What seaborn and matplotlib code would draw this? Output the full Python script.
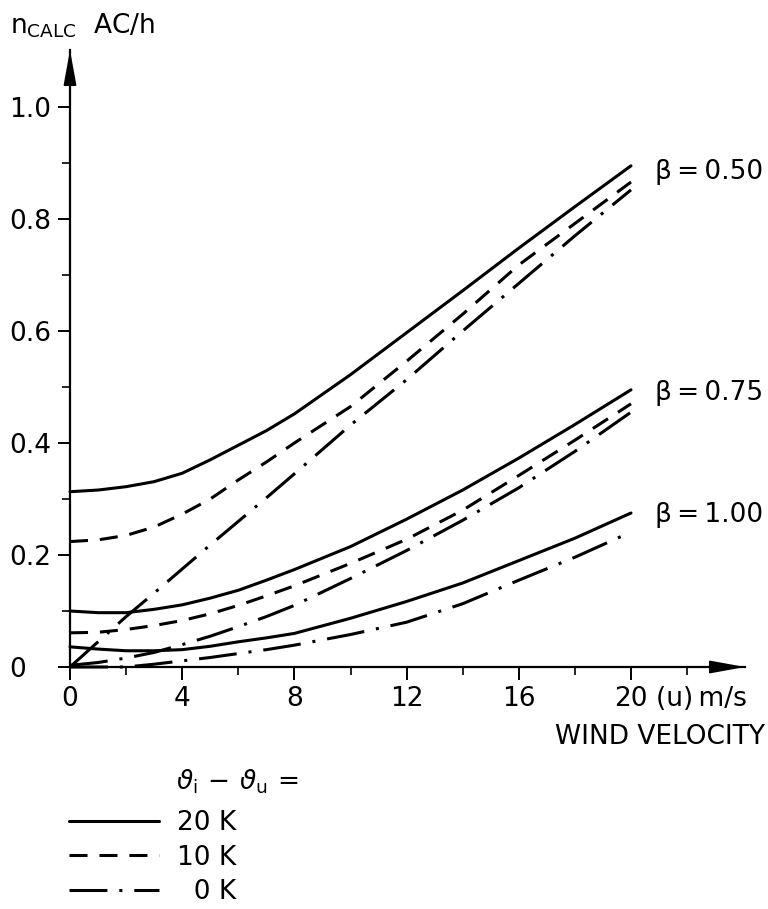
import pandas as pd
import seaborn as sns
import matplotlib.pyplot as plt
from matplotlib.lines import Line2D

# wind velocity (m/s) at which the curves were read
speed = [0, 1, 2, 3, 4, 5, 6, 7, 8, 10, 12, 14, 16, 18, 20]

# beta = 0.50
b050_20K = [0.313, 0.316, 0.322, 0.331, 0.346, 0.370, 0.396, 0.422, 0.452, 0.522, 0.597, 0.672, 0.748, 0.822, 0.895]
b050_10K = [0.224, 0.227, 0.235, 0.250, 0.273, 0.300, 0.334, 0.366, 0.400, 0.465, 0.546, 0.630, 0.718, 0.792, 0.866]
b050_0K = [0.000, 0.045, 0.090, 0.132, 0.175, 0.218, 0.260, 0.302, 0.345, 0.432, 0.513, 0.600, 0.685, 0.770, 0.852]
# beta = 0.75
b075_20K = [0.100, 0.097, 0.097, 0.103, 0.111, 0.123, 0.137, 0.155, 0.174, 0.215, 0.264, 0.316, 0.373, 0.433, 0.495]
b075_10K = [0.061, 0.062, 0.067, 0.074, 0.083, 0.095, 0.110, 0.127, 0.145, 0.185, 0.228, 0.280, 0.342, 0.405, 0.470]
b075_0K = [0.003, 0.008, 0.016, 0.026, 0.040, 0.055, 0.072, 0.090, 0.110, 0.158, 0.208, 0.262, 0.320, 0.385, 0.455]
# beta = 1.00
b100_20K = [0.036, 0.032, 0.029, 0.029, 0.031, 0.037, 0.045, 0.052, 0.060, 0.087, 0.117, 0.150, 0.190, 0.230, 0.275]
b100_0K = [0.000, 0.000, 0.000, 0.005, 0.011, 0.017, 0.024, 0.031, 0.039, 0.058, 0.080, 0.113, 0.155, 0.196, 0.241]

curves = {
    ("0.50", "20 K"): b050_20K, ("0.50", "10 K"): b050_10K, ("0.50", "0 K"): b050_0K,
    ("0.75", "20 K"): b075_20K, ("0.75", "10 K"): b075_10K, ("0.75", "0 K"): b075_0K,
    ("1.00", "20 K"): b100_20K, ("1.00", "0 K"): b100_0K,
}
beta_labels = ["0.50", "0.75", "1.00"]
beta_label_y = [0.884, 0.489, 0.271]
dt_labels = ["20 K", "10 K", "0 K"]
xticks = [0, 4, 8, 12, 16, 20]
yticks = [0, 0.2, 0.4, 0.6, 0.8, 1.0]
ytick_labels = ["0", "0.2", "0.4", "0.6", "0.8", "1.0"]

rows = []
for (beta, dt), vals in curves.items():
    for s, v in zip(speed, vals):
        rows.append({"speed": s, "n": v, "beta": beta, "dT": dt})
df = pd.DataFrame(rows)

sns.set_style("ticks")
plt.rcParams["font.family"] = ["DejaVu Sans"]
plt.rcParams["mathtext.fontset"] = "dejavusans"
for key in ["text.color", "axes.labelcolor", "xtick.color", "ytick.color", "axes.edgecolor"]:
    plt.rcParams[key] = "black"
FS = 19

dash_styles = {"20 K": "", "10 K": (5.9, 3.9), "0 K": (12.4, 3.9, 1.0, 3.9)}

fig = plt.figure(figsize=(7.68, 9.09), dpi=100)
ax = fig.add_axes([70 / 768, 1 - 667 / 909, 675 / 768, 617 / 909])

sns.lineplot(data=df, x="speed", y="n", units="beta", style="dT", style_order=dt_labels,
             estimator=None, color="black", dashes=dash_styles, linewidth=2.2,
             legend=False, ax=ax, clip_on=False)

ax.set_xlim(0, 20 * 675 / 561)
ax.set_ylim(0, 617 / 560)
for side in ["top", "right"]:
    ax.spines[side].set_visible(False)
for side in ["left", "bottom"]:
    ax.spines[side].set_linewidth(1.6)
ax.set_xlabel("")
ax.set_ylabel("")

ax.set_xticks(xticks)
ax.set_xticks([2, 6, 10, 14, 18, 22], minor=True)
ax.set_yticks(yticks)
ax.set_yticklabels(ytick_labels)
ax.set_yticks([0.1, 0.3, 0.5, 0.7, 0.9], minor=True)
ax.tick_params(which="major", length=9, width=1.4, labelsize=FS, pad=5, direction="out")
ax.tick_params(which="minor", length=6, width=1.2, direction="out")
ax.tick_params(axis="y", which="major", pad=35)
for lab in ax.get_yticklabels():
    lab.set_horizontalalignment("left")

arrow = dict(arrowstyle="-|>,head_length=1.1,head_width=0.2", mutation_scale=20,
             fc="black", ec="black", lw=1.2, shrinkA=0, shrinkB=0)
ax.annotate("", xy=(1, 0), xytext=(0.95, 0), xycoords="axes fraction", arrowprops=arrow)
ax.annotate("", xy=(0, 1), xytext=(0, 0.95), xycoords="axes fraction", arrowprops=arrow)

for lab, y in zip(beta_labels, beta_label_y):
    ax.text(20.86, y, "β\u2009=\u2009" + lab, fontsize=FS, ha="left", va="center")

ax.annotate("(u)\u2009m/s", xy=(20.88, 0), xycoords=("data", "axes fraction"),
            xytext=(0, -14), textcoords="offset points", fontsize=FS, ha="left", va="top")

fig.text(10 / 768, 1 - 33 / 909, r"n$_{\mathregular{CALC}}$  AC/h", fontsize=FS, va="baseline")
fig.text(765 / 768, 1 - 737 / 909, "WIND VELOCITY", fontsize=FS, ha="right", va="center")
fig.text(176 / 768, 1 - 782 / 909, r"$\vartheta_{\mathregular{i}}\,-\,\vartheta_{\mathregular{u}}\,=$",
         fontsize=FS, ha="left", va="center")

handles = []
for k in dt_labels:
    d = dash_styles[k]
    if d == "":
        handles.append(Line2D([], [], color="black", lw=2.2))
    else:
        handles.append(Line2D([], [], color="black", lw=2.2, dashes=d))
fig.legend(handles, ["20 K", "10 K", "\u20070 K"], loc="upper left",
           bbox_to_anchor=(69 / 768, 1 - 810 / 909), frameon=False, fontsize=FS,
           handlelength=3.4, handletextpad=0.7, labelspacing=0.33,
           borderpad=0, borderaxespad=0)

fig.savefig("out.png", dpi=100)
